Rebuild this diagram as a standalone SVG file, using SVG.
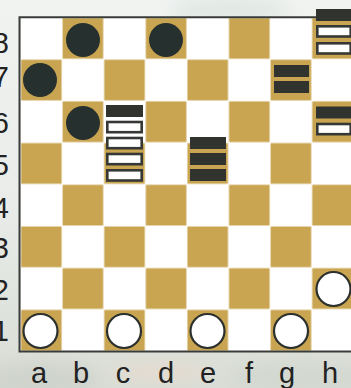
<svg xmlns="http://www.w3.org/2000/svg" width="351" height="388" viewBox="0 0 351 388">
<defs>
<linearGradient id="bg" x1="0" y1="0" x2="0" y2="1">
<stop offset="0" stop-color="#f1f3f1"/>
<stop offset="0.5" stop-color="#e9ece9"/>
<stop offset="1" stop-color="#d9ddd5"/>
</linearGradient>
<filter id="blur" x="-50%" y="-50%" width="200%" height="200%"><feGaussianBlur stdDeviation="8"/></filter>
<pattern id="chk" x="20.5" y="17.5" width="83.2" height="83.4" patternUnits="userSpaceOnUse">
<rect x="0" y="0" width="83.2" height="83.4" fill="#ffffff"/>
<rect x="42.1" y="0.5" width="40.6" height="40.7" fill="#c9a551"/>
<rect x="0.5" y="42.2" width="40.6" height="40.7" fill="#c9a551"/>
</pattern>
<style>
.lbl{font-family:"Liberation Sans",Arial,sans-serif;font-size:29px;fill:#222;}
.blk{fill:#26302f;}
.wht{fill:#ffffff;stroke:#2c302d;stroke-width:2.2;}
.bb{fill:#30332e;}
.wb{fill:#ffffff;stroke:#353835;stroke-width:2.6;}
</style>
</defs>
<rect width="351" height="388" fill="url(#bg)"/>
<g filter="url(#blur)" opacity="0.6">
<ellipse cx="230" cy="10" rx="60" ry="14" fill="#d7e3de"/>
<ellipse cx="40" cy="380" rx="60" ry="18" fill="#c9cec6"/>
<ellipse cx="300" cy="378" rx="70" ry="16" fill="#cfd4cc"/>
<ellipse cx="160" cy="372" rx="50" ry="10" fill="#ead9cc"/>
</g>
<g id="board">
<rect x="20.5" y="17.5" width="333" height="333.6" fill="url(#chk)"/>
<path d="M360 17.2 H19.5 V351.6 H360" fill="none" stroke="#3a3c3a" stroke-width="2"/>
</g>
<g id="ranks" class="lbl" text-anchor="end">
<text x="9" y="53">8</text>
<text x="9" y="87">7</text>
<text x="9" y="133">6</text>
<text x="9" y="175">5</text>
<text x="9" y="218">4</text>
<text x="9" y="258">3</text>
<text x="9" y="300">2</text>
<text x="9" y="341">1</text>
</g>
<g id="files" class="lbl" text-anchor="middle">
<text x="39" y="383">a</text>
<text x="81" y="383">b</text>
<text x="123" y="383">c</text>
<text x="166" y="383">d</text>
<text x="208" y="383">e</text>
<text x="249" y="383">f</text>
<text x="287" y="383">g</text>
<text x="330" y="383">h</text>
</g>
<g id="b8"><circle class="blk" cx="83" cy="40" r="17"/></g>
<g id="d8"><circle class="blk" cx="166" cy="40" r="17"/></g>
<g id="a7"><circle class="blk" cx="40" cy="80" r="17"/></g>
<g id="b6"><circle class="blk" cx="83" cy="123" r="17"/></g>
<g id="c6">
<rect class="bb" x="106" y="105" width="37" height="12"/>
<rect class="wb" x="107.3" y="122" width="34.4" height="10.2"/>
<rect class="wb" x="107.3" y="138" width="34.4" height="10.2"/>
<rect class="wb" x="107.3" y="154" width="34.4" height="10.2"/>
<rect class="wb" x="107.3" y="170.3" width="34.4" height="10.2"/>
</g>
<g id="e5">
<rect class="bb" x="190" y="137" width="36" height="12"/>
<rect class="bb" x="190" y="153" width="36" height="12"/>
<rect class="bb" x="190" y="169" width="36" height="12"/>
</g>
<g id="g7">
<rect class="bb" x="274" y="65" width="35" height="12"/>
<rect class="bb" x="274" y="81" width="35" height="12"/>
</g>
<g id="h8">
<rect class="bb" x="316" y="9" width="36" height="12"/>
<rect class="wb" x="317.3" y="26.3" width="33.4" height="10.2"/>
<rect class="wb" x="317.3" y="43.3" width="33.4" height="10.2"/>
</g>
<g id="h6">
<rect class="bb" x="316" y="106.5" width="36" height="12"/>
<rect class="wb" x="317.3" y="124" width="33.4" height="10.2"/>
</g>
<g id="h2"><circle class="wht" cx="333.5" cy="289" r="17"/></g>
<g id="a1"><circle class="wht" cx="40.5" cy="331" r="17"/></g>
<g id="c1"><circle class="wht" cx="124" cy="331" r="17"/></g>
<g id="e1"><circle class="wht" cx="207.5" cy="331" r="17"/></g>
<g id="g1"><circle class="wht" cx="291" cy="331" r="17"/></g>
</svg>
